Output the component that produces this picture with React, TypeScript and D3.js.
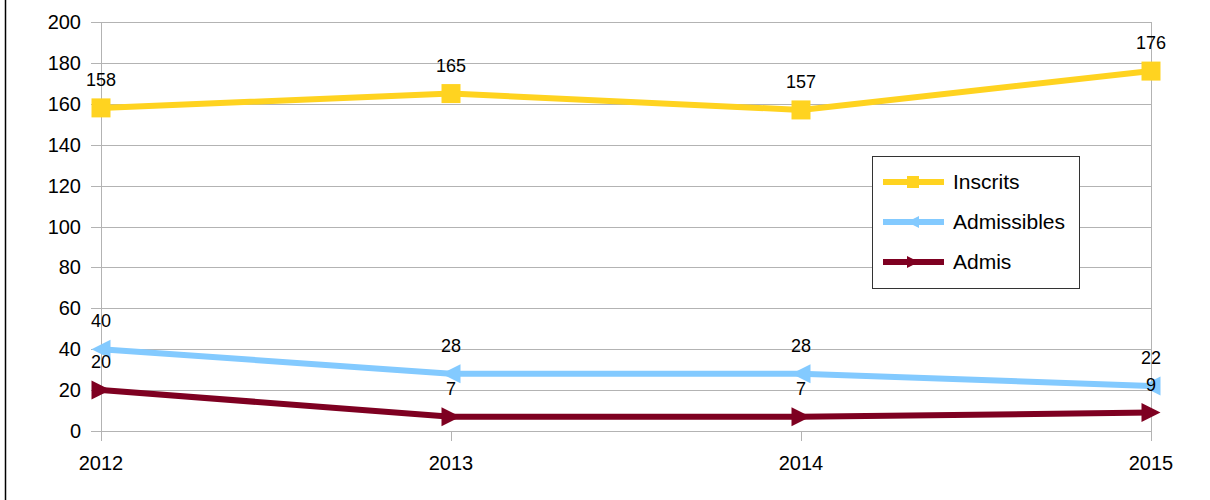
import React from 'react';
import * as d3 from 'd3';

const years = ['2012', '2013', '2014', '2015'];
const inscrits = [158, 165, 157, 176];
const admissibles = [40, 28, 28, 22];
const admis = [20, 7, 7, 9];
const yTicks = [0, 20, 40, 60, 80, 100, 120, 140, 160, 180, 200];

const FONT = '"Liberation Sans", Arial, sans-serif';

type Shape = 'square' | 'left' | 'right';

const series: { name: string; values: number[]; color: string; shape: Shape }[] = [
  { name: 'Inscrits', values: inscrits, color: '#ffd320', shape: 'square' },
  { name: 'Admissibles', values: admissibles, color: '#83caff', shape: 'left' },
  { name: 'Admis', values: admis, color: '#7e0021', shape: 'right' },
];

// marker path centred on (0,0)
const markerPath = (shape: Shape, s: number) => {
  const h = s / 2;
  if (shape === 'square') return `M${-h},${-h}H${h}V${h}H${-h}Z`;
  if (shape === 'left') return `M${h},${-h}L${-h},0L${h},${h}Z`;
  return `M${-h},${-h}L${h},0L${-h},${h}Z`;
};

const App = () => {
  const width = 1210;
  const height = 500;
  const margin = { top: 22, right: 59, bottom: 69, left: 101 };

  const x = d3.scalePoint<string>()
    .domain(years)
    .range([margin.left, width - margin.right]);

  const y = d3.scaleLinear()
    .domain([0, 200])
    .range([height - margin.bottom, margin.top]);

  const line = d3.line<number>()
    .x((_, i) => x(years[i]) as number)
    .y(d => y(d));

  const x0 = margin.left;
  const x1 = width - margin.right;
  const yBottom = y(0);

  const legend = { x: 872, y: 156, w: 207, h: 132 };

  return (
    <svg
      width={width}
      height={height}
      style={{ position: 'absolute', left: 0, top: 0, background: '#fff' }}
      fontFamily={FONT}
    >
      <rect x={0} y={0} width={width} height={height} fill="#fff" />
      <line x1={5.5} x2={5.5} y1={0} y2={height} stroke="#000" strokeWidth={1.5} />

      {/* grid */}
      {yTicks.map(t => (
        <g key={t}>
          <line x1={x0 - 10} x2={x1} y1={Math.round(y(t)) + 0.5} y2={Math.round(y(t)) + 0.5} stroke="#b3b3b3" strokeWidth={1} />
          <text x={x0 - 20} y={y(t) + 7} textAnchor="end" fontSize={20} fill="#000">{t}</text>
        </g>
      ))}
      <line x1={x0 + 0.5} x2={x0 + 0.5} y1={margin.top} y2={yBottom} stroke="#b3b3b3" />
      <line x1={x1 + 0.5} x2={x1 + 0.5} y1={margin.top} y2={yBottom} stroke="#b3b3b3" />

      {years.map(yr => (
        <g key={yr}>
          <line x1={(x(yr) as number) + 0.5} x2={(x(yr) as number) + 0.5} y1={yBottom} y2={yBottom + 10} stroke="#b3b3b3" />
          <text x={x(yr)} y={yBottom + 39} textAnchor="middle" fontSize={20} fill="#000">{yr}</text>
        </g>
      ))}

      {/* series */}
      {series.map(s => (
        <g key={s.name}>
          <path d={line(s.values) || ''} fill="none" stroke={s.color} strokeWidth={6} strokeLinejoin="round" />
          {s.values.map((v, i) => (
            <path
              key={i}
              d={markerPath(s.shape, 19)}
              transform={`translate(${x(years[i])},${y(v)})`}
              fill={s.color}
            />
          ))}
        </g>
      ))}

      {/* data labels */}
      {series.map(s => s.values.map((v, i) => (
        <text
          key={s.name + i}
          x={x(years[i])}
          y={y(v) - 22}
          textAnchor="middle"
          fontSize={18}
          fill="#000"
        >{v}</text>
      )))}

      {/* legend */}
      <rect x={legend.x + 0.5} y={legend.y + 0.5} width={legend.w} height={legend.h} fill="#fff" stroke="#333" strokeWidth={1} />
      {series.map((s, i) => {
        const ly = legend.y + 26 + i * 40;
        return (
          <g key={s.name}>
            <line x1={legend.x + 11} x2={legend.x + 72} y1={ly} y2={ly} stroke={s.color} strokeWidth={6} />
            <path d={markerPath(s.shape, 12)} transform={`translate(${legend.x + 41},${ly})`} fill={s.color} />
            <text x={legend.x + 81} y={ly + 7} fontSize={21} fill="#000">{s.name}</text>
          </g>
        );
      })}
    </svg>
  );
};

export default App;
